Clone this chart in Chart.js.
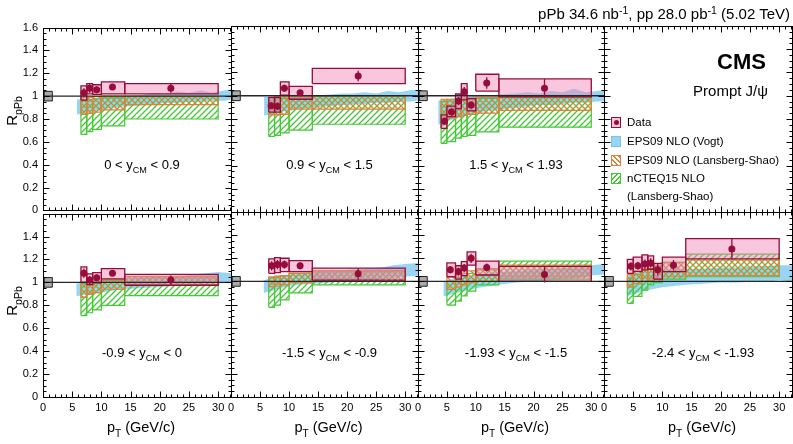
<!DOCTYPE html>
<html>
<head>
<meta charset="utf-8">
<script src="https://cdn.jsdelivr.net/npm/chart.js@4.4.1/dist/chart.umd.min.js"></script>
<style>
  html, body { margin: 0; padding: 0; background: #fff; }
  #lienzo { position: relative; width: 793px; height: 444px; overflow: hidden; font-family: "Liberation Sans", Arial, sans-serif; color: #000; }
  #lienzo canvas { position: absolute; }
  .txt { position: absolute; white-space: nowrap; line-height: 1; }
  .txt sub { font-size: 0.7em; vertical-align: 0; position: relative; top: 0.45em; }
  .txt sup { font-size: 0.7em; vertical-align: 0; position: relative; top: -0.5em; }
  .muestra { position: absolute; width: 10px; height: 11px; box-sizing: border-box; }
</style>
</head>
<body>
<div id="lienzo"></div>
<script>
// ---- Datos ----
// Cortes en rapidez (texto antes / después de y_CM)
const etiquetasY = [
  ['0 &lt; y', '&lt; 0.9'], ['0.9 &lt; y', '&lt; 1.5'], ['1.5 &lt; y', '&lt; 1.93'],
  ['-0.9 &lt; y', '&lt; 0'], ['-1.5 &lt; y', '&lt; -0.9'], ['-1.93 &lt; y', '&lt; -1.5'], ['-2.4 &lt; y', '&lt; -1.93']
];

// Bordes de los bins en pT (GeV/c)
const bordesA = [6.5, 7.5, 8.5, 10, 14, 30];
const bordesB = [4, 5, 6.5, 7.5, 8.5, 10, 14, 30];
const bordesC = [5, 6.5, 7.5, 8.5, 10, 14, 30];
const bordesBin = [bordesA, bordesA, bordesB, bordesA, bordesA, bordesC, bordesB];

// pT medio de cada punto
const ptMedio = [
  [7.0, 8.0, 9.2, 11.9, 21.9],
  [6.9, 8.0, 9.2, 11.9, 21.9],
  [4.6, 5.8, 7.0, 8.0, 9.2, 11.9, 21.9],
  [7.0, 8.0, 9.2, 11.9, 21.9],
  [7.0, 8.0, 9.2, 11.9, 21.9],
  [5.6, 7.0, 8.0, 9.2, 11.9, 21.9],
  [4.6, 5.8, 7.0, 8.0, 9.2, 11.9, 21.9]
];

// R_pPb medido
const rpPb = [
  [1.03, 1.07, 1.055, 1.08, 1.07],
  [0.915, 0.91, 1.065, 1.025, 1.17],
  [0.78, 0.86, 0.955, 1.035, 0.92, 1.11, 1.065],
  [1.08, 1.02, 1.04, 1.08, 1.02],
  [1.135, 1.145, 1.145, 1.135, 1.065],
  [1.10, 1.085, 1.115, 1.20, 1.12, 1.06],
  [1.13, 1.135, 1.15, 1.16, 1.10, 1.14, 1.28]
];

// Error estadístico
const errEstad = [
  [0.04, 0.04, 0.03, 0.025, 0.04],
  [0.03, 0.03, 0.03, 0.025, 0.045],
  [0.03, 0.03, 0.035, 0.04, 0.03, 0.05, 0.08],
  [0.04, 0.035, 0.03, 0.025, 0.04],
  [0.04, 0.04, 0.035, 0.03, 0.05],
  [0.03, 0.035, 0.035, 0.04, 0.035, 0.07],
  [0.035, 0.035, 0.04, 0.04, 0.05, 0.045, 0.09]
];

// Cajas sistemáticas (rosa)
const sistBajo = [
  [0.965, 1.02, 1.015, 1.02, 1.02],
  [0.86, 0.86, 1.005, 0.97, 1.105],
  [0.72, 0.82, 0.89, 0.965, 0.87, 1.04, 0.99],
  [1.0, 0.98, 0.995, 1.03, 0.975],
  [1.07, 1.075, 1.085, 1.085, 1.01],
  [1.04, 1.02, 1.05, 1.14, 1.055, 1.0],
  [1.07, 1.085, 1.10, 1.105, 1.02, 1.085, 1.195]
];
const sistAlto = [
  [1.09, 1.11, 1.10, 1.125, 1.11],
  [0.985, 0.985, 1.12, 1.08, 1.235],
  [0.835, 0.91, 1.015, 1.105, 0.975, 1.185, 1.145],
  [1.135, 1.075, 1.085, 1.12, 1.07],
  [1.195, 1.205, 1.2, 1.18, 1.115],
  [1.16, 1.135, 1.17, 1.255, 1.175, 1.13],
  [1.19, 1.21, 1.23, 1.22, 1.155, 1.21, 1.37]
];

// EPS09 NLO (Lansberg-Shao)
const eps09Bajo = [
  [0.84, 0.85, 0.86, 0.88, 0.925],
  [0.835, 0.835, 0.84, 0.885, 0.885],
  [0.80, 0.81, 0.82, 0.83, 0.84, 0.85, 0.875],
  [0.87, 0.895, 0.91, 0.94, 0.98],
  [0.955, 0.96, 0.97, 0.99, 1.0],
  [0.93, 0.95, 0.97, 0.99, 1.0, 1.04],
  [0.95, 0.98, 1.0, 1.01, 1.02, 1.04, 1.05]
];
const eps09Alto = [
  [0.99, 0.99, 0.995, 1.0, 1.0],
  [0.985, 0.99, 0.99, 0.995, 1.0],
  [0.97, 0.97, 0.975, 0.98, 0.98, 0.985, 0.99],
  [1.0, 1.0, 1.005, 1.02, 1.05],
  [1.04, 1.045, 1.05, 1.07, 1.09],
  [1.04, 1.06, 1.07, 1.09, 1.11, 1.14],
  [1.06, 1.09, 1.11, 1.13, 1.14, 1.165, 1.185]
];

// nCTEQ15 NLO (Lansberg-Shao)
const ncteqBajo = [
  [0.665, 0.69, 0.71, 0.74, 0.80],
  [0.65, 0.66, 0.68, 0.705, 0.755],
  [0.59, 0.605, 0.635, 0.65, 0.66, 0.69, 0.73],
  [0.71, 0.735, 0.76, 0.80, 0.885],
  [0.775, 0.795, 0.84, 0.90, 0.97],
  [0.795, 0.83, 0.875, 0.915, 0.97, 1.02],
  [0.81, 0.87, 0.925, 0.97, 0.99, 1.02, 1.04]
];
const ncteqAlto = [
  [0.96, 0.97, 0.975, 0.985, 0.995],
  [0.96, 0.97, 0.975, 0.985, 0.995],
  [0.95, 0.955, 0.96, 0.965, 0.97, 0.98, 0.99],
  [0.99, 1.0, 1.0, 1.02, 1.05],
  [1.03, 1.04, 1.05, 1.07, 1.09],
  [1.0, 1.03, 1.05, 1.07, 1.10, 1.175],
  [1.03, 1.06, 1.09, 1.11, 1.13, 1.165, 1.235]
];

// EPS09 NLO (Vogt), banda continua
const vogtPt = [
  [5.8, 7, 8.5, 10, 12, 14, 17, 19, 21, 23, 25, 27, 29, 31, 32.2],
  [5.7, 7, 8.5, 10, 12, 14, 17, 19, 21, 23, 25, 27, 29, 31, 32.2],
  [3.5, 5, 6.5, 8, 10, 12, 14, 17, 19, 21, 23, 25, 27, 29, 31, 32.2],
  [5.7, 7, 8.5, 10, 12, 14, 17, 20, 23, 26, 28, 30, 32.2],
  [5.6, 7, 8.5, 10, 12, 14, 17, 20, 23, 26, 28, 30, 32.2],
  [4.4, 6, 7.5, 9, 11, 14, 17, 20, 23, 26, 28, 30, 32.2],
  [4.0, 5, 6.5, 8, 10, 12, 14, 17, 20, 23, 26, 28, 30, 32.2]
];
const vogtAlto = [
  [0.97, 0.975, 0.98, 0.99, 0.995, 1.0, 1.01, 1.03, 1.02, 1.04, 1.03, 1.05, 1.03, 1.05, 1.06],
  [0.99, 0.99, 0.99, 1.0, 1.0, 1.0, 1.01, 1.02, 1.02, 1.03, 1.02, 1.04, 1.03, 1.05, 1.05],
  [0.96, 0.97, 0.98, 0.99, 1.0, 1.0, 1.01, 1.02, 1.03, 1.02, 1.04, 1.03, 1.06, 1.03, 1.04, 1.05],
  [0.99, 1.0, 1.01, 1.02, 1.03, 1.03, 1.04, 1.05, 1.05, 1.07, 1.08, 1.09, 1.08],
  [1.01, 1.03, 1.05, 1.06, 1.07, 1.08, 1.09, 1.1, 1.11, 1.12, 1.14, 1.15, 1.16],
  [1.0, 1.02, 1.04, 1.05, 1.06, 1.08, 1.09, 1.1, 1.11, 1.12, 1.12, 1.14, 1.15],
  [1.06, 1.07, 1.08, 1.09, 1.1, 1.1, 1.11, 1.11, 1.12, 1.12, 1.13, 1.13, 1.14, 1.14]
];
const vogtBajo = [
  [0.84, 0.85, 0.87, 0.88, 0.9, 0.91, 0.92, 0.93, 0.94, 0.94, 0.95, 0.95, 0.96, 0.96, 0.97],
  [0.83, 0.84, 0.86, 0.87, 0.89, 0.9, 0.91, 0.92, 0.93, 0.93, 0.94, 0.94, 0.95, 0.95, 0.96],
  [0.75, 0.78, 0.8, 0.83, 0.85, 0.87, 0.88, 0.9, 0.91, 0.92, 0.92, 0.93, 0.94, 0.94, 0.95, 0.95],
  [0.88, 0.89, 0.9, 0.91, 0.93, 0.94, 0.95, 0.96, 0.97, 0.98, 0.99, 0.99, 1.0],
  [0.9, 0.92, 0.94, 0.96, 0.97, 0.98, 0.99, 1.0, 1.01, 1.02, 1.03, 1.04, 1.05],
  [0.87, 0.89, 0.91, 0.93, 0.95, 0.97, 0.99, 1.0, 1.01, 1.02, 1.03, 1.05, 1.06],
  [0.87, 0.89, 0.91, 0.93, 0.95, 0.96, 0.97, 0.98, 0.99, 0.99, 1.0, 1.0, 1.01, 1.0]
];

// Incertidumbre global (caja gris en R = 1)
const incGlobal = 0.042;

// Marcas de los ejes
const ticksX = [0, 5, 10, 15, 20, 25, 30];
const ticksY = [0, 0.2, 0.4, 0.6, 0.8, 1, 1.2, 1.4, 1.6];

// ---- Geometría de la figura ----
const colIzq = [43, 231, 418, 604];
const colAncho = [188, 187, 186, 188];
const filaSup = [26, 212];
const filaAlto = [186, 185];
const panelFila = [0, 0, 0, 1, 1, 1, 1];
const panelCol = [0, 1, 2, 0, 1, 2, 3];
const margen = 10;
const fuente = '"Liberation Sans", Arial, sans-serif';

const granate = 'rgb(150,12,58)';
const rosa = 'rgba(240,128,180,0.45)';
const azul = 'rgb(152,213,242)';
const naranja = 'rgb(226,128,58)';
const verde = 'rgb(70,200,56)';

const lienzo = document.getElementById('lienzo');

// Patrón rayado para las predicciones de Lansberg-Shao
function rayado(color, dir) {
    const s = 6;
    const c = document.createElement('canvas');
    c.width = s; c.height = s;
    const g = c.getContext('2d');
    g.strokeStyle = color;
    g.lineWidth = 1.35;
    g.beginPath();
    if (dir > 0) {
        g.moveTo(0, s); g.lineTo(s, 0);
        g.moveTo(-1, 1); g.lineTo(1, -1);
        g.moveTo(s - 1, s + 1); g.lineTo(s + 1, s - 1);
    } else {
        g.moveTo(0, 0); g.lineTo(s, s);
        g.moveTo(-1, s - 1); g.lineTo(1, s + 1);
        g.moveTo(s - 1, -1); g.lineTo(s + 1, 1);
    }
    g.stroke();
    return g.createPattern(c, 'repeat');
}
const patronNaranja = rayado(naranja, -1);
const patronVerde = rayado(verde, 1);

// Rectángulo cerrado como línea (se rellena con fill: 'shape')
function caja(x1, x2, lo, hi) {
    return [{x: x1, y: lo}, {x: x2, y: lo}, {x: x2, y: hi}, {x: x1, y: hi}, {x: x1, y: lo}];
}

// Marco y marcas hacia dentro en los cuatro lados (estilo ROOT)
const marcoTicks = {
    id: 'marcoTicks',
    afterDraw(chart) {
        const {ctx, chartArea: a, scales: {x, y}} = chart;
        const l = Math.round(a.left) + 0.5, r = Math.round(a.right) + 0.5;
        const t = Math.round(a.top) + 0.5, b = Math.round(a.bottom) + 0.5;
        ctx.save();
        ctx.strokeStyle = '#000';
        ctx.lineWidth = 1;
        ctx.beginPath();
        for (let i = 0; i <= 32; i++) {
            const px = Math.round(x.getPixelForValue(i)) + 0.5;
            const len = i % 5 === 0 ? 6 : 3;
            ctx.moveTo(px, b); ctx.lineTo(px, b - len);
            ctx.moveTo(px, t); ctx.lineTo(px, t + len);
        }
        for (let i = 0; i <= 32; i++) {
            const py = Math.round(y.getPixelForValue(i * 0.05)) + 0.5;
            const len = i % 4 === 0 ? 6 : 3;
            ctx.moveTo(l, py); ctx.lineTo(l + len, py);
            ctx.moveTo(r, py); ctx.lineTo(r - len, py);
        }
        ctx.stroke();
        ctx.strokeRect(l, t, r - l, b - t);
        ctx.restore();
    }
};

function texto(html, x, y, size, opts = {}) {
    const d = document.createElement('div');
    d.className = 'txt';
    d.innerHTML = html;
    d.style.fontSize = size + 'px';
    d.style.left = x + 'px';
    d.style.top = y + 'px';
    let tf = opts.align === 'right' ? 'translate(-100%,-50%)' :
             opts.align === 'left' ? 'translate(0,-50%)' : 'translate(-50%,-50%)';
    if (opts.rot) tf += ' rotate(-90deg)';
    if (opts.bold) d.style.fontWeight = 'bold';
    d.style.transform = tf;
    lienzo.appendChild(d);
}

function crearLienzo(fila, col) {
    const ejeY = col === 0 ? 43 : 0;
    const padIzq = col === 0 ? 0 : margen;
    const ejeX = fila === 1 ? 18 : 0;
    const padAbajo = fila === 1 ? 0 : margen;
    const cv = document.createElement('canvas');
    cv.width = ejeY + padIzq + colAncho[col] + margen;
    cv.height = margen + filaAlto[fila] + ejeX + padAbajo;
    cv.style.left = (colIzq[col] - ejeY - padIzq) + 'px';
    cv.style.top = (filaSup[fila] - margen) + 'px';
    lienzo.appendChild(cv);
    return {cv, ejeY, ejeX, padding: {left: padIzq, right: margen, top: margen, bottom: padAbajo}};
}

function opcionesEjes(fila, col, conDatos, geo) {
    return {
        x: {
            type: 'linear', min: 0, max: 32.2,
            display: conDatos && fila === 1,
            grid: {display: false, drawTicks: false},
            border: {display: false},
            ticks: {color: '#000', font: {family: fuente, size: 11}, padding: 4, maxRotation: 0, autoSkip: false},
            afterBuildTicks: s => { s.ticks = ticksX.map(v => ({value: v})); },
            afterFit: s => { s.height = geo.ejeX; }
        },
        y: {
            type: 'linear', min: 0, max: 1.6,
            display: conDatos && col === 0,
            grid: {display: false, drawTicks: false},
            border: {display: false},
            ticks: {
                color: '#000', font: {family: fuente, size: 11}, padding: 5,
                callback: v => (fila === 1 && v > 1.55) ? '' : String(+v.toFixed(1))
            },
            afterBuildTicks: s => { s.ticks = ticksY.map(v => ({value: v})); },
            afterFit: s => { s.width = geo.ejeY; }
        }
    };
}

function crearPanel(k) {
    const fila = panelFila[k], col = panelCol[k];
    const geo = crearLienzo(fila, col);
    const bordes = bordesBin[k];
    const ds = [];

    // Puntos de datos
    ds.push({
        data: ptMedio[k].map((x, i) => ({x, y: rpPb[k][i]})),
        showLine: false, pointRadius: 3.5, pointBackgroundColor: granate,
        pointBorderWidth: 0, order: 0
    });
    // Barras de error estadístico
    ptMedio[k].forEach((x, i) => {
        ds.push({
            data: [{x, y: rpPb[k][i] - errEstad[k][i]}, {x, y: rpPb[k][i] + errEstad[k][i]}],
            borderColor: granate, borderWidth: 1.3, pointRadius: 0, order: 1
        });
    });
    // Línea R = 1 y caja global
    ds.push({
        data: [{x: 0, y: 1}, {x: 32.2, y: 1}],
        borderColor: '#262626', borderWidth: 1.3, pointRadius: 0, order: 2
    });
    ds.push({
        data: caja(0.15, 1.6, 1 - incGlobal, 1 + incGlobal),
        fill: 'shape', backgroundColor: '#a7abab', borderColor: '#222',
        borderWidth: 1, pointRadius: 0, order: 2
    });
    // Cajas de sistemáticos y predicciones por bin
    for (let i = 0; i < bordes.length - 1; i++) {
        ds.push({
            data: caja(bordes[i], bordes[i + 1], sistBajo[k][i], sistAlto[k][i]),
            fill: 'shape', backgroundColor: rosa, borderColor: granate,
            borderWidth: 1.3, pointRadius: 0, order: 3
        });
        ds.push({
            data: caja(bordes[i], bordes[i + 1], eps09Bajo[k][i], eps09Alto[k][i]),
            fill: 'shape', backgroundColor: patronNaranja, borderColor: naranja,
            borderWidth: 1.2, pointRadius: 0, order: 4
        });
        ds.push({
            data: caja(bordes[i], bordes[i + 1], ncteqBajo[k][i], ncteqAlto[k][i]),
            fill: 'shape', backgroundColor: patronVerde, borderColor: verde,
            borderWidth: 1.2, pointRadius: 0, order: 5
        });
    }
    // Banda de Vogt
    ds.push({
        data: vogtPt[k].map((x, i) => ({x, y: vogtAlto[k][i]})),
        fill: '+1', backgroundColor: azul, borderColor: 'rgba(0,0,0,0)',
        borderWidth: 0, pointRadius: 0, order: 6
    });
    ds.push({
        data: vogtPt[k].map((x, i) => ({x, y: vogtBajo[k][i]})),
        fill: false, borderColor: 'rgba(0,0,0,0)', borderWidth: 0, pointRadius: 0, order: 6
    });

    new Chart(geo.cv, {
        type: 'line',
        data: {datasets: ds},
        options: {
            responsive: false, animation: false, devicePixelRatio: 1, events: [],
            layout: {padding: geo.padding, autoPadding: false},
            plugins: {legend: {display: false}, tooltip: {enabled: false}},
            scales: opcionesEjes(fila, col, true, geo)
        },
        plugins: [marcoTicks]
    });

    // Textos del panel
    const cx = colIzq[col] + colAncho[col] / 2;
    texto(etiquetasY[k][0] + '<sub>CM</sub> ' + etiquetasY[k][1], cx + 5, filaSup[fila] + (fila === 0 ? 139 : 141), 13);
    if (fila === 1) texto('p<sub>T</sub> (GeV/c)', cx + 4, 427, 14.5);
}

for (let k = 0; k < 7; k++) crearPanel(k);

// Panel de la leyenda (vacío, solo marco y marcas)
const geoLeyenda = crearLienzo(0, 3);
new Chart(geoLeyenda.cv, {
    type: 'line',
    data: {datasets: []},
    options: {
        responsive: false, animation: false, devicePixelRatio: 1, events: [],
        layout: {padding: geoLeyenda.padding, autoPadding: false},
        plugins: {legend: {display: false}, tooltip: {enabled: false}},
        scales: opcionesEjes(0, 3, false, geoLeyenda)
    },
    plugins: [marcoTicks]
});

// Títulos de ejes y cabecera
texto('R<sub>pPb</sub>', 11, 111, 15, {rot: true});
texto('R<sub>pPb</sub>', 11, 301, 15, {rot: true});
texto('pPb 34.6 nb<sup>-1</sup>, pp 28.0 pb<sup>-1</sup> (5.02 TeV)', 790, 13, 15, {align: 'right'});
texto('CMS', 766, 62, 22, {align: 'right', bold: true});
texto('Prompt J/&psi;', 768, 90, 15, {align: 'right'});

// Leyenda
const leyendaTextos = ['Data', 'EPS09 NLO (Vogt)', 'EPS09 NLO (Lansberg-Shao)', 'nCTEQ15 NLO', '(Lansberg-Shao)'];
const leyendaY = [123, 142, 161, 179, 197];
const leyendaEstilos = [
    'background:#f6c6db;border:1.3px solid ' + granate,
    'background:' + azul + ';border:1px solid rgb(120,195,235)',
    'background:repeating-linear-gradient(45deg,' + naranja + ' 0 1px,#fff 1px 3.5px);border:1px solid ' + naranja,
    'background:repeating-linear-gradient(135deg,' + verde + ' 0 1px,#fff 1px 3.5px);border:1px solid ' + verde
];
leyendaTextos.forEach((t, i) => {
    texto(t, 627, leyendaY[i], 11.5, {align: 'left'});
    if (i < 4) {
        const m = document.createElement('div');
        m.className = 'muestra';
        m.style.cssText = leyendaEstilos[i];
        m.style.left = '611px';
        m.style.top = (leyendaY[i] - 6) + 'px';
        if (i === 0) {
            const p = document.createElement('div');
            p.style.cssText = 'position:absolute;left:1.5px;top:2px;width:5px;height:5px;border-radius:50%;background:' + granate;
            m.appendChild(p);
        }
        lienzo.appendChild(m);
    }
});
</script>
</body>
</html>
